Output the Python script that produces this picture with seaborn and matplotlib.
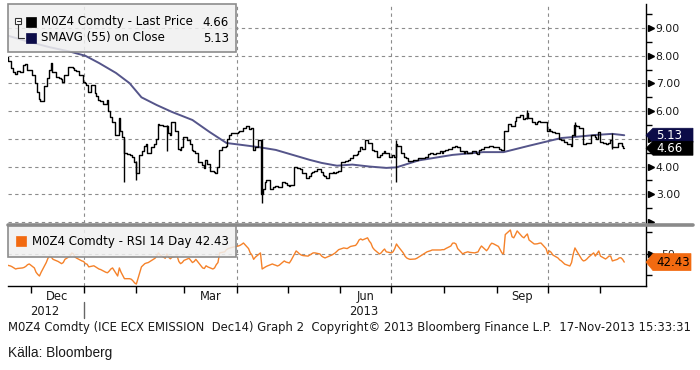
import numpy as np
import pandas as pd
import matplotlib
matplotlib.use("Agg")
import matplotlib.pyplot as plt
import matplotlib.dates as mdates
from matplotlib.ticker import FixedLocator, NullFormatter
from matplotlib.patches import Rectangle, Polygon
from matplotlib.lines import Line2D
from matplotlib.transforms import IdentityTransform
import seaborn as sns

# daily closes (EUR/t), one list per month, business days
close_nov12 = [7.95, 7.8, 7.55, 7.4, 7.35, 7.45, 7.42, 7.66, 7.7, 7.5, 7.5]
close_dec12 = [7.3, 7.0, 6.7, 6.45, 6.35, 6.9, 7.2, 7.5, 7.75, 7.4, 7.25, 7.2, 7.15, 7.05, 7.3,
               7.6, 7.6, 7.55, 7.5, 7.45, 7.3]
close_jan13 = [7.05, 7.0, 6.95, 6.7, 6.95, 6.65, 6.55, 6.4, 6.35, 6.25, 6.4, 6.0, 5.8, 5.6,
               5.15, 5.75, 5.3, 5.05, 4.5, 4.45, 4.4, 4.35, 4.15]
close_feb13 = [3.75, 4.4, 4.55, 4.75, 4.8, 4.5, 4.7, 4.8, 5.0, 5.55, 5.5, 5.45, 5.45, 5.2, 5.15,
               5.6, 5.3, 4.65, 4.6, 4.7]
close_mar13 = [5.05, 4.95, 4.8, 4.6, 4.55, 4.5, 4.15, 4.05, 3.95, 4.25, 4.1, 3.85, 3.8, 3.75,
               4.0, 4.6, 4.7, 4.75, 5.0, 5.15, 5.2]
close_apr13 = [5.2, 5.25, 5.3, 5.3, 5.4, 5.45, 5.35, 5.4, 4.6, 4.7, 4.95, 3.0, 3.2, 3.45, 3.5,
               3.2, 3.25, 3.3, 3.3, 3.25, 3.45, 3.4]
close_may13 = [3.35, 3.3, 3.35, 4.0, 3.95, 3.95, 3.9, 3.75, 3.6, 3.65, 3.75, 3.8, 3.85, 3.9,
               3.8, 3.7, 3.65, 3.6, 3.75, 3.8, 3.75, 3.8, 3.85]
close_jun13 = [4.15, 4.2, 4.2, 4.25, 4.3, 4.4, 4.45, 4.55, 4.7, 4.65, 4.95, 4.85, 4.85, 4.6,
               4.55, 4.35, 4.4, 4.5, 4.55, 4.5]
close_jul13 = [4.35, 4.4, 4.35, 4.8, 4.75, 4.5, 4.35, 4.3, 4.2, 4.2, 4.25, 4.25, 4.3, 4.3, 4.3,
               4.35, 4.45, 4.5, 4.5, 4.45, 4.5, 4.55, 4.5]
close_aug13 = [4.55, 4.6, 4.65, 4.7, 4.7, 4.75, 4.7, 4.55, 4.5, 4.55, 4.5, 4.5, 4.55, 4.5, 4.45,
               4.6, 4.65, 4.7, 4.72, 4.75, 4.75, 4.7]
close_sep13 = [4.7, 4.65, 4.6, 4.6, 5.3, 5.55, 5.45, 5.45, 5.65, 5.8, 5.85, 5.7, 5.75, 5.95,
               5.75, 5.6, 5.55, 5.6, 5.65, 5.6, 5.6]
close_oct13 = [5.3, 5.35, 5.3, 5.25, 5.2, 5.0, 4.95, 4.95, 4.9, 4.8, 4.75, 5.15, 5.5, 5.45, 5.4,
               4.8, 4.8, 4.85, 4.85, 5.15, 5.05, 5.0, 5.25]
close_nov13 = [4.9, 4.85, 4.8, 4.85, 4.95, 4.7, 4.7, 4.85, 4.85, 4.75, 4.66]

# days with a long intraday range
spike_dates = ["2013-01-25", "2013-02-01", "2013-02-19", "2013-04-16", "2013-07-04",
               "2013-09-19", "2013-10-17", "2013-11-08"]
spike_low = [3.45, 3.5, 4.55, 2.7, 3.45, 5.7, 5.1, 4.65]
spike_high = [5.0, 4.2, 5.5, 5.0, 4.95, 6.05, 5.6, 5.2]

# 55 day moving average
sma_dates = ["2012-11-16", "2012-11-30", "2012-12-12", "2012-12-24", "2013-01-02", "2013-01-10",
             "2013-01-20", "2013-01-28", "2013-02-04", "2013-02-13", "2013-02-22", "2013-03-06",
             "2013-03-16", "2013-03-26", "2013-04-04", "2013-04-14", "2013-04-24", "2013-05-04",
             "2013-05-14", "2013-05-21", "2013-05-30", "2013-06-08", "2013-06-18", "2013-06-28",
             "2013-07-04", "2013-07-17", "2013-08-06", "2013-08-24", "2013-09-05", "2013-09-20",
             "2013-10-09", "2013-10-19", "2013-10-29", "2013-11-08", "2013-11-15"]
sma_values = [8.75, 8.5, 8.31, 8.15, 8.0, 7.74, 7.38, 7.01, 6.5, 6.22, 5.97, 5.68, 5.25, 4.85,
              4.78, 4.7, 4.6, 4.42, 4.24, 4.13, 4.03, 4.07, 4.0, 3.95, 3.97, 4.22, 4.42, 4.52,
              4.52, 4.75, 5.03, 5.08, 5.14, 5.18, 5.13]

# RSI 14 day
rsi_nov12 = [40, 38.8, 38, 37, 36, 36.5, 37, 37.5, 38.5, 40, 40.7]
rsi_dec12 = [37, 33, 31, 29.5, 33, 42, 46, 48, 47, 45, 43, 42, 41, 42, 45, 48, 51, 50, 47, 46, 43.5]
rsi_jan13 = [43, 41, 40.5, 38, 39, 38, 37, 36, 35.5, 33, 32.5, 34, 36, 37, 29.5, 37, 33, 30, 27,
             27, 26.5, 25, 23]
rsi_feb13 = [22, 38, 39.5, 41, 41.6, 42, 45, 46, 48, 51, 49, 46, 50, 47, 45.5, 47, 48, 43, 41, 42]
rsi_mar13 = [44, 46, 44, 42, 43, 45, 39, 37, 36.5, 39, 38, 36, 37, 40, 42, 51, 52, 54, 55, 55.5, 56]
rsi_apr13 = [57, 57.4, 58, 59, 60.2, 55, 51, 49, 45, 47, 51, 36, 37, 38, 38.8, 40.7, 40, 39.5,
             38.8, 39.5, 43.5, 42.5]
rsi_may13 = [42, 41.6, 44, 52.8, 51.5, 50, 49, 48.5, 48, 49, 50, 51, 51, 50, 48, 47, 46.3, 47, 49,
             50, 51, 52.5, 54]
rsi_jun13 = [55.6, 55.3, 55, 56, 57, 58, 60, 63, 64, 63, 65, 62, 60, 56, 54, 50, 51, 53, 54.6, 52]
rsi_jul13 = [51, 52, 55, 59.3, 57, 51, 48, 46.3, 45.5, 45, 45.3, 46, 47, 48, 49, 52, 52.5, 53,
             53.7, 53.7, 53.7, 53.7, 54]
rsi_aug13 = [54, 55, 57.4, 60, 60.2, 59.3, 55, 50, 51, 51.5, 52, 51.5, 51, 51.5, 51.9, 55, 57.4,
             53, 55, 58, 60, 59.5]
rsi_sep13 = [57, 54, 51, 50, 68, 72.3, 66, 65, 68, 71.4, 66, 65, 67, 68.6, 63, 59.3, 59.3, 59.5,
             60, 60.2, 55]
rsi_oct13 = [50, 52.8, 51.5, 49, 46.3, 44.5, 43.5, 42, 40.5, 38.8, 42, 50, 55.6, 52.8, 45, 43.5,
             44, 45.3, 47, 51, 48, 50.5, 52.8]
rsi_nov13 = [48, 45.3, 46.5, 48, 48, 43.5, 45, 46.3, 46.5, 45, 42.43]

month_labels = ["Dec", "Mar", "Jun", "Sep"]
year_labels = ["2012", "2013"]

close = sum([close_nov12, close_dec12, close_jan13, close_feb13, close_mar13, close_apr13,
             close_may13, close_jun13, close_jul13, close_aug13, close_sep13, close_oct13,
             close_nov13], [])
rsi = sum([rsi_nov12, rsi_dec12, rsi_jan13, rsi_feb13, rsi_mar13, rsi_apr13, rsi_may13,
           rsi_jun13, rsi_jul13, rsi_aug13, rsi_sep13, rsi_oct13, rsi_nov13], [])
dates = pd.bdate_range("2012-11-16", "2013-11-15")
sma_dates = pd.to_datetime(sma_dates)
spike_dates = pd.to_datetime(spike_dates)

sns.set_style("white")
plt.rcParams["font.family"] = ["DejaVu Sans"]

W, H = 700, 370


def fx(x):
    return x / W


def fy(y):
    return 1 - y / H


fig = plt.figure(figsize=(7, 3.7), dpi=100)
ax = fig.add_axes([fx(8), fy(223), 638 / W, 219 / H])
ax2 = fig.add_axes([fx(8), fy(286), 638 / W, 60 / H])

grid_kw = dict(color="#8c8c8c", lw=0.8, ls=(0, (3, 3)), zorder=0)
for v in range(2, 10):
    ax.axhline(v, **grid_kw)
ax2.axhline(50, **grid_kw)
for q in ["2013-01-01", "2013-04-01", "2013-07-01", "2013-10-01"]:
    ax.axvline(pd.Timestamp(q), **grid_kw)
    ax2.axvline(pd.Timestamp(q), **grid_kw)

sns.lineplot(x=sma_dates, y=sma_values, ax=ax, color="#55558a", lw=1.4, legend=False, zorder=2)
sns.lineplot(x=dates, y=close, ax=ax, color="black", lw=1, drawstyle="steps-mid",
             legend=False, zorder=3)
ax.vlines(spike_dates, spike_low, spike_high, color="black", lw=1, zorder=3)
sns.lineplot(x=dates, y=rsi, ax=ax2, color="#f5822a", lw=1, legend=False, zorder=3)

for a in (ax, ax2):
    a.set_xlim(pd.Timestamp("2012-11-17 12:00"), pd.Timestamp("2013-11-27 19:00"))
    a.spines["left"].set_visible(False)
    a.spines["top"].set_visible(False)
    a.spines["right"].set_color("black")
    a.spines["right"].set_linewidth(1)
    a.yaxis.tick_right()
    a.set_xlabel("")
    a.set_ylabel("")
ax.spines["bottom"].set_visible(False)
ax2.spines["bottom"].set_color("black")
ax2.spines["bottom"].set_linewidth(1)

# price axis (5.00 sits behind the value tags)
ax.set_ylim(1.96, 9.87)
ax.set_yticks([3, 4, 6, 7, 8, 9])
ax.set_yticklabels([f"{v:.2f}" for v in [3, 4, 6, 7, 8, 9]])
ax.yaxis.set_minor_locator(FixedLocator(np.arange(2.5, 10, 1)))
ax.tick_params(axis="y", which="major", length=0, pad=7, labelsize=7.8, labelcolor="#1a1a1a")
ax.tick_params(axis="y", which="minor", right=True, length=4, width=1, color="black")
ax.tick_params(axis="x", bottom=False, labelbottom=False)
ax.plot([1.008] * 8, range(2, 10), transform=ax.get_yaxis_transform(), marker=">", ms=5,
        ls="none", color="black", clip_on=False)

# rsi axis
ax2.set_ylim(20.2, 76)
ax2.set_yticks([30, 50, 70])
ax2.set_yticklabels(["", "50", ""])
ax2.tick_params(axis="y", right=True, length=4, width=1, color="black", pad=7, labelsize=7.8)
ax2.plot([1.008], [50], transform=ax2.get_yaxis_transform(), marker=">", ms=5, ls="none",
         color="black", clip_on=False)

months = pd.date_range("2012-12-01", "2013-11-01", freq="MS")
ax2.xaxis.set_major_locator(FixedLocator(mdates.date2num(months)))
ax2.xaxis.set_major_formatter(NullFormatter())
mids = []
for m in ["2012-12-01", "2013-03-01", "2013-06-01", "2013-09-01"]:
    s = pd.Timestamp(m)
    e = s + pd.offsets.MonthBegin(1)
    mids.append(s + (e - s) / 2)
ax2.xaxis.set_minor_locator(FixedLocator(mdates.date2num(mids)))
ax2.xaxis.set_minor_formatter(plt.FixedFormatter(month_labels))
ax2.tick_params(axis="x", which="major", bottom=True, length=5, width=1, color="black",
                direction="out")
ax2.tick_params(axis="x", which="minor", bottom=True, length=0, pad=3, labelsize=8.3,
                labelcolor="#1a1a1a")

tr = ax2.get_xaxis_transform()
ax2.text(pd.Timestamp("2012-12-09"), -0.42, year_labels[0], transform=tr, ha="center",
         va="center", fontsize=8.3, color="#1a1a1a")
ax2.text(pd.Timestamp("2013-06-15"), -0.42, year_labels[1], transform=tr, ha="center",
         va="center", fontsize=8.3, color="#1a1a1a")
ax2.plot([pd.Timestamp("2013-01-01")] * 2, [-0.27, -0.53], transform=tr, color="#666666",
         lw=1, clip_on=False)

# grey separator between panels
fig.add_artist(Line2D([fx(8), fx(693)], [fy(224.8)] * 2, transform=fig.transFigure,
                      color="#8a8a8a", lw=2.6, zorder=4))


# legend boxes
def box(x0, y0, x1, y1):
    fig.add_artist(Rectangle((fx(x0), fy(y1)), (x1 - x0) / W, (y1 - y0) / H,
                             transform=fig.transFigure, fc=(0.94, 0.94, 0.94, 0.85),
                             ec="#8c8c8c", lw=1.2, zorder=5))


def square(x0, y0, color):
    fig.add_artist(Rectangle((fx(x0), fy(y0 + 10)), 10 / W, 10 / H, transform=fig.transFigure,
                             fc=color, ec=color, lw=0.5, zorder=6))


box(8, 4, 236, 52)
square(26, 17, "black")
square(26, 33, "#0c0c48")
# little tree icon
fig.add_artist(Rectangle((fx(15), fy(24)), 6 / W, 6 / H, transform=fig.transFigure,
                         fc="white", ec="#333333", lw=0.8, zorder=6))
fig.add_artist(Line2D([fx(16.5), fx(19.5)], [fy(21)] * 2, transform=fig.transFigure,
                      color="#333333", lw=0.8, zorder=7))
fig.add_artist(Line2D([fx(18), fx(18), fx(24)], [fy(24), fy(38), fy(38)],
                      transform=fig.transFigure, color="#333333", lw=0.8, zorder=6))

txt_kw = dict(va="center", fontsize=8.5, color="black", zorder=7)
fig.text(fx(41), fy(22), "M0Z4 Comdty - Last Price", **txt_kw)
fig.text(fx(229), fy(22), f"{close[-1]:.2f}", ha="right", **txt_kw)
fig.text(fx(41), fy(38), "SMAVG (55) on Close", **txt_kw)
fig.text(fx(229), fy(38), f"{sma_values[-1]:.2f}", ha="right", **txt_kw)

box(8, 226, 236, 257)
square(16, 236, "#f26a10")
fig.text(fx(32), fy(241), f"M0Z4 Comdty - RSI 14 Day {rsi[-1]:.2f}", **txt_kw)


# last value tags on the right axis, placed from the data value
def tag(a, val, fc, tc, half, right):
    y = a.transData.transform((mdates.date2num(dates[-1]), val))[1]
    pts = [(646, y), (653, y + half), (right, y + half), (right, y - half), (653, y - half)]
    fig.add_artist(Polygon(pts, closed=True, transform=IdentityTransform(), fc=fc, ec=fc,
                           lw=0.5, zorder=8))
    fig.text(656, y, f"{val:.2f}", transform=IdentityTransform(), va="center", ha="left",
             fontsize=8.5, color=tc, zorder=9)


tag(ax, sma_values[-1], "#0c0c48", "white", 7, 693)
tag(ax, close[-1], "black", "white", 7, 693)
tag(ax2, rsi[-1], "#f26a10", "black", 8.5, 691)

fig.text(fx(8), fy(328), "M0Z4 Comdty (ICE ECX EMISSION  Dec14) Graph 2  Copyright\u00a9 2013 "
         "Bloomberg Finance L.P.  17-Nov-2013 15:33:31", va="center", fontsize=8.4,
         color="#1a1a1a")
fig.text(fx(8), fy(353), "Källa: Bloomberg", va="center", fontsize=9.8,
         family=["Liberation Sans", "DejaVu Sans"], color="#1a1a1a")

fig.savefig("out.png", dpi=100, facecolor="white")
